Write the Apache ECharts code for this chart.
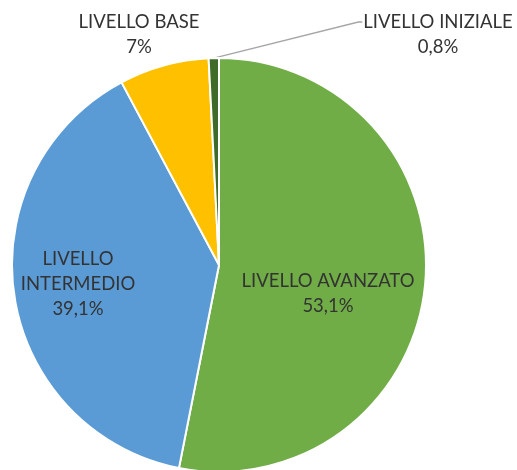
<!DOCTYPE html>
<html>
<head>
<meta charset="utf-8">
<script src="https://cdn.jsdelivr.net/npm/echarts@6/dist/echarts.min.js"></script>
<style>
  html, body { margin: 0; padding: 0; background: #fff; }
  #chart { width: 517px; height: 470px; }
</style>
</head>
<body>
<div id="chart"></div>
<script>
// Livelli raggiunti (percentuali)
const categories = ['LIVELLO AVANZATO', 'LIVELLO INTERMEDIO', 'LIVELLO BASE', 'LIVELLO INIZIALE'];
const values = [53.1, 39.1, 7, 0.8];
const valueLabels = ['53,1%', '39,1%', '7%', '0,8%'];
const labelTexts = ['LIVELLO AVANZATO', 'LIVELLO\nINTERMEDIO', 'LIVELLO BASE', 'LIVELLO INIZIALE'];
const colors = ['#70AD47', '#5B9BD5', '#FFC000', '#3E6B28'];

// label block centres, in px
const labelSpots = [[328, 294], [78, 284], [139, 35], [438, 35]];

const chart = echarts.init(document.getElementById('chart'), null, { renderer: 'canvas' });

const data = categories.map((name, i) => ({
  name: name,
  value: values[i],
  itemStyle: { color: colors[i] },
  label: {
    formatter: labelTexts[i] + '\n' + valueLabels[i]
  },
  labelLine: { show: i === 3 }
}));

chart.setOption({
  animation: false,
  series: [{
    type: 'pie',
    center: [219, 265],
    radius: 207,
    startAngle: 90,
    clockwise: true,
    avoidLabelOverlap: false,
    data: data,
    itemStyle: { borderColor: '#ffffff', borderWidth: 2 },
    label: {
      show: true,
      position: 'outside',
      fontFamily: 'Lato, "Open Sans", sans-serif',
      fontSize: 18.5,
      lineHeight: 25,
      color: '#333333',
      align: 'center'
    },
    labelLine: {
      show: true,
      lineStyle: { color: '#A6A6A6', width: 1.3 }
    },
    labelLayout: function (p) {
      const spot = labelSpots[p.dataIndex];
      const out = { x: spot[0], y: spot[1], align: 'center', verticalAlign: 'middle' };
      if (p.dataIndex === 3 && p.labelLinePoints) {
        const start = p.labelLinePoints[0];
        const left = spot[0] - p.labelRect.width / 2;
        const lineY = spot[1] - 13;
        out.labelLinePoints = [start, [left - 5, lineY], [left - 1, lineY]];
      }
      return out;
    }
  }]
});
</script>
</body>
</html>
